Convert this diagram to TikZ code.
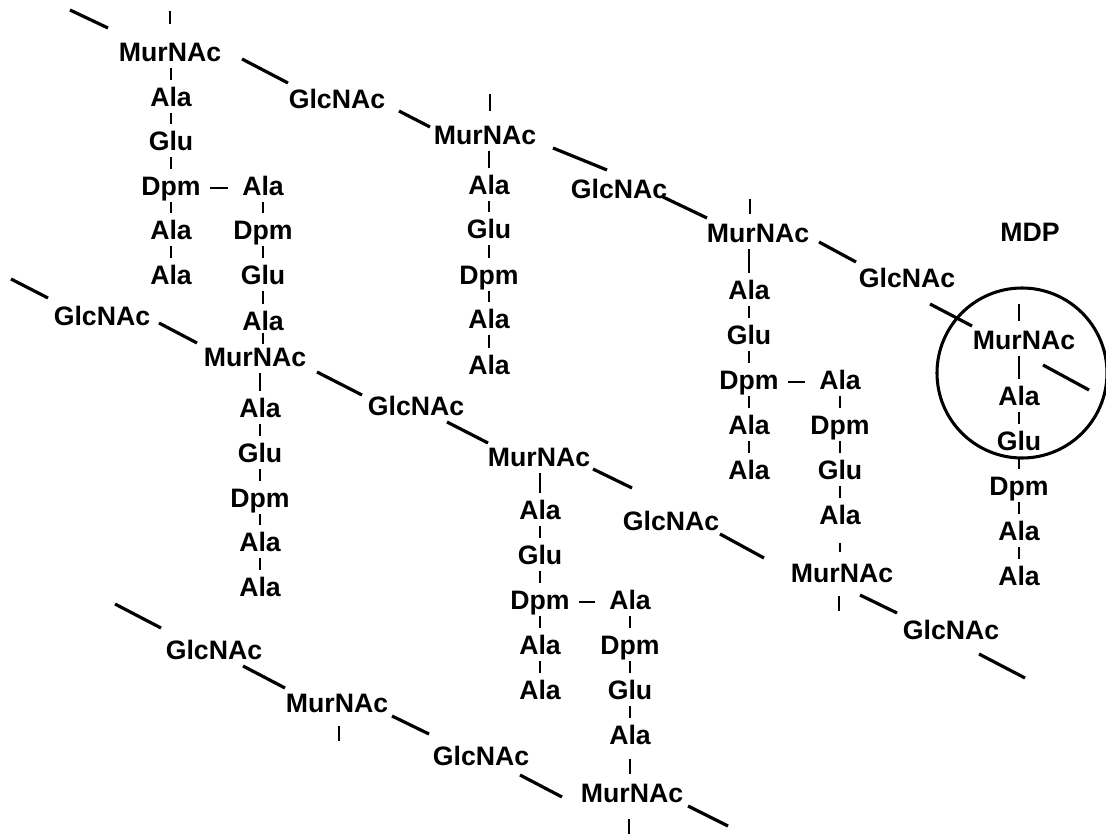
\documentclass[tikz,border=0pt]{standalone}
\usepackage{fontspec}
\setmainfont{Liberation Sans}
\usetikzlibrary{calc}
\newcommand{\pgdown}[2]{\draw[link] ($(#2.north |- #1.south)+(0,6)$) -- ($(#2.north)+(0,-7)$);}
\newcommand{\pgup}[4]{\draw[link] ($(#1.south)+(0,#3)$) -- ($(#1.south |- #2.north)+(0,#4)$);}
\newcommand{\pgcross}[2]{\draw[link] ($(#1.east)+(9,2)$) -- ($(#2.west)+(-14,2)$);}
\newcommand{\pgbond}[6]{\draw[bond] ($(#1)+(#2,#3)$) -- ($(#4)+(#5,#6)$);}
\begin{document}
\begin{tikzpicture}[x=0.75pt,y=-0.75pt,
  lbl/.style={font=\fontsize{20}{24}\selectfont\bfseries, inner sep=0pt, text height=14.3pt, text depth=0pt},
  bond/.style={line width=2.4pt, line cap=butt},
  link/.style={line width=0.9pt},
  ring/.style={line width=2.3pt}]
\fill[white] (0,0) rectangle (1106,834);
\useasboundingbox (0,0) rectangle (1106,834);

% strand 1
\node[lbl] (m1) at (170,52) {MurNAc};
\node[lbl] (a1a) at (171,97) {Ala};
\node[lbl] (a1b) at (171,141) {Glu};
\node[lbl] (a1c) at (171,186) {Dpm};
\node[lbl] (a1d) at (171,230) {Ala};
\node[lbl] (a1e) at (171,275) {Ala};
\node[lbl] (x1a) at (263,186) {Ala};
\node[lbl] (x1b) at (263,230) {Dpm};
\node[lbl] (x1c) at (263,275) {Glu};
\node[lbl] (x1d) at (263,321) {Ala};
\node[lbl] (g1) at (337,99) {GlcNAc};
\node[lbl] (m2) at (485,135) {MurNAc};
\node[lbl] (a2a) at (489,185) {Ala};
\node[lbl] (a2b) at (489,229) {Glu};
\node[lbl] (a2c) at (489,275) {Dpm};
\node[lbl] (a2d) at (489,319) {Ala};
\node[lbl] (a2e) at (489,365) {Ala};
\node[lbl] (g2) at (619,189) {GlcNAc};
\node[lbl] (m3) at (758,233) {MurNAc};
\node[lbl] (a3a) at (749,290) {Ala};
\node[lbl] (a3b) at (749,335) {Glu};
\node[lbl] (a3c) at (749,380) {Dpm};
\node[lbl] (a3d) at (749,425) {Ala};
\node[lbl] (a3e) at (749,470) {Ala};
\node[lbl] (x3a) at (840,380) {Ala};
\node[lbl] (x3b) at (840,425) {Dpm};
\node[lbl] (x3c) at (840,470) {Glu};
\node[lbl] (x3d) at (840,515) {Ala};
\node[lbl] (g3) at (907,278) {GlcNAc};
\node[lbl] (m4) at (1024,340) {MurNAc};
\node[lbl] (a4a) at (1019,396) {Ala};
\node[lbl] (a4b) at (1019,441) {Glu};
\node[lbl] (a4c) at (1019,486) {Dpm};
\node[lbl] (a4d) at (1019,531) {Ala};
\node[lbl] (a4e) at (1019,576) {Ala};
\node[lbl] (mdp) at (1030,232) {MDP};

% strand 2
\node[lbl] (g6) at (102,316) {GlcNAc};
\node[lbl] (m6) at (255,357) {MurNAc};
\node[lbl] (a6a) at (260,408) {Ala};
\node[lbl] (a6b) at (260,453) {Glu};
\node[lbl] (a6c) at (260,498) {Dpm};
\node[lbl] (a6d) at (260,542) {Ala};
\node[lbl] (a6e) at (260,587) {Ala};
\node[lbl] (g7) at (416,406) {GlcNAc};
\node[lbl] (m7) at (539,457) {MurNAc};
\node[lbl] (a7a) at (540,510) {Ala};
\node[lbl] (a7b) at (540,555) {Glu};
\node[lbl] (a7c) at (540,600) {Dpm};
\node[lbl] (a7d) at (540,645) {Ala};
\node[lbl] (a7e) at (540,690) {Ala};
\node[lbl] (x7a) at (630,600) {Ala};
\node[lbl] (x7b) at (630,645) {Dpm};
\node[lbl] (x7c) at (630,690) {Glu};
\node[lbl] (x7d) at (630,735) {Ala};
\node[lbl] (g4) at (671,521) {GlcNAc};
\node[lbl] (m5) at (842,573) {MurNAc};
\node[lbl] (g5) at (951,630) {GlcNAc};

% strand 3
\node[lbl] (g9) at (214,650) {GlcNAc};
\node[lbl] (m9) at (337,703) {MurNAc};
\node[lbl] (g8) at (481,756) {GlcNAc};
\node[lbl] (m8) at (632,793) {MurNAc};

% free ends
\coordinate (f1) at (70,10);
\coordinate (f8) at (1089,390);
\coordinate (f9) at (11,279);
\coordinate (f16) at (1025,678);
\coordinate (f17) at (115,604);
\coordinate (f21) at (728,826);

% glycan bonds
\pgbond{f1}{0}{0}{m1}{-62}{-24}
\pgbond{m1}{72}{7}{g1}{-49}{-16}
\pgbond{g1}{62}{12}{m2}{-55}{-8}
\pgbond{m2}{68}{13}{g2}{-12}{-19}
\pgbond{g2}{44}{8}{m3}{-51}{-15}
\pgbond{m3}{61}{9}{g3}{-51}{-16}
\pgbond{g3}{23}{26}{m4}{-52}{-14}
\pgbond{m4}{19}{25}{f8}{0}{0}
\pgbond{f9}{0}{0}{g6}{-54}{-18}
\pgbond{g6}{57}{7}{m6}{-58}{-14}
\pgbond{m6}{62}{15}{g7}{-54}{-11}
\pgbond{g7}{31}{16}{m7}{-51}{-14}
\pgbond{m7}{54}{12}{g4}{-39}{-33}
\pgbond{g4}{49}{13}{m5}{-78}{-15}
\pgbond{m5}{18}{22}{g5}{-54}{-17}
\pgbond{g5}{28}{24}{f16}{0}{0}
\pgbond{f17}{0}{0}{g9}{-53}{-22}
\pgbond{g9}{29}{16}{m9}{-52}{-15}
\pgbond{m9}{55}{13}{g8}{-52}{-22}
\pgbond{g8}{39}{19}{m8}{-70}{4}
\pgbond{m8}{56}{13}{f21}{0}{0}

% ticks
\draw[link] ($(m1.north)+(0,-18)$) -- ++(0,-13);
\draw[link] ($(m2.north)+(5,-14)$) -- ++(0,-17);
\draw[link] ($(m3.north)+(-8,-9)$) -- ++(0,-15);
\draw[link] ($(m4.north)+(-5,-9)$) -- ++(0,-17);
\draw[link] ($(m5.south)+(-3,13)$) -- ++(0,15);
\draw[link] ($(m8.south)+(-3,16)$) -- ++(0,15);
\draw[link] ($(m9.south)+(2,13)$) -- ++(0,15);

% peptide stems
\pgdown{m1}{a1a}\pgdown{a1a}{a1b}\pgdown{a1b}{a1c}\pgdown{a1c}{a1d}\pgdown{a1d}{a1e}
\pgdown{x1a}{x1b}\pgdown{x1b}{x1c}\pgdown{x1c}{x1d}
\pgup{x1d}{m6}{2}{-3}
\pgcross{a1c}{x1a}
\pgdown{m2}{a2a}\pgdown{a2a}{a2b}\pgdown{a2b}{a2c}\pgdown{a2c}{a2d}\pgdown{a2d}{a2e}
\pgdown{m3}{a3a}\pgdown{a3a}{a3b}\pgdown{a3b}{a3c}\pgdown{a3c}{a3d}\pgdown{a3d}{a3e}
\pgdown{x3a}{x3b}\pgdown{x3b}{x3c}\pgdown{x3c}{x3d}
\pgup{x3d}{m5}{18}{-11}
\pgcross{a3c}{x3a}
\pgdown{m4}{a4a}\pgdown{a4a}{a4b}\pgdown{a4b}{a4c}\pgdown{a4c}{a4d}\pgdown{a4d}{a4e}
\pgdown{m6}{a6a}\pgdown{a6a}{a6b}\pgdown{a6b}{a6c}\pgdown{a6c}{a6d}\pgdown{a6d}{a6e}
\pgdown{m7}{a7a}\pgdown{a7a}{a7b}\pgdown{a7b}{a7c}\pgdown{a7c}{a7d}\pgdown{a7d}{a7e}
\pgdown{x7a}{x7b}\pgdown{x7b}{x7c}\pgdown{x7c}{x7d}
\pgup{x7d}{m8}{14}{-9}
\pgcross{a7c}{x7a}

% MDP ring
\draw[ring] ($(m4)+(-2,33)$) circle[radius=63.75pt];
\end{tikzpicture}
\end{document}
